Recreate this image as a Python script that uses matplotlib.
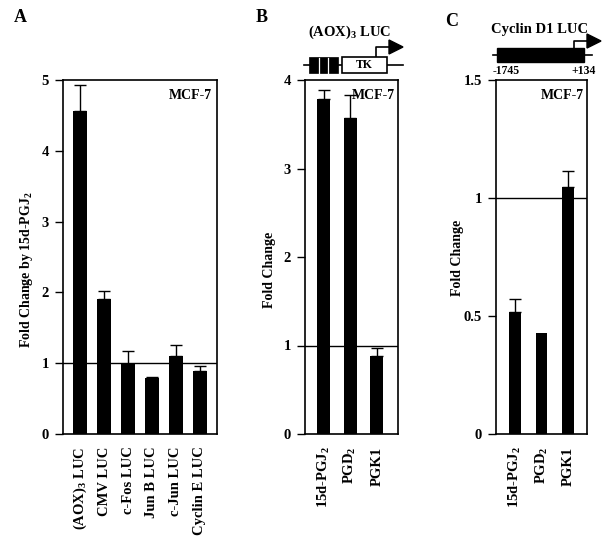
import matplotlib
matplotlib.use("Agg")
import matplotlib.pyplot as plt
from matplotlib.patches import Rectangle, Polygon

plt.rcParams['font.family'] = ['Liberation Serif', 'DejaVu Serif']
plt.rcParams['font.weight'] = 'bold'
plt.rcParams['mathtext.fontset'] = 'custom'
plt.rcParams['mathtext.rm'] = 'Liberation Serif:bold'
plt.rcParams['mathtext.bf'] = 'Liberation Serif:bold'
plt.rcParams['mathtext.it'] = 'Liberation Serif:bold'
plt.rcParams['mathtext.default'] = 'bf'

# ---- data ----
a_cats = ['(AOX)$_3$ LUC', 'CMV LUC', 'c-Fos LUC', 'Jun B LUC', 'c-Jun LUC', 'Cyclin E LUC']
a_vals = [4.56, 1.91, 0.99, 0.79, 1.10, 0.89]
a_err = [0.37, 0.11, 0.18, 0.01, 0.16, 0.07]
a_ticks = [0, 1, 2, 3, 4, 5]

b_cats = ['15d-PGJ$_2$', 'PGD$_2$', 'PGK1']
b_vals = [3.79, 3.57, 0.88]
b_err = [0.10, 0.26, 0.09]
b_ticks = [0, 1, 2, 3, 4]

c_cats = ['15d-PGJ$_2$', 'PGD$_2$', 'PGK1']
c_vals = [0.517, 0.428, 1.047]
c_err = [0.055, 0.0, 0.068]
c_ticks = [0, 0.5, 1, 1.5]
c_ticklabels = ['0', '0.5', '1', '1.5']

W, H = 609, 543
fig = plt.figure(figsize=(W / 100, H / 100), dpi=100)


def make_axes(x0, x1, y0, y1):
    return fig.add_axes([x0 / W, 1 - y1 / H, (x1 - x0) / W, (y1 - y0) / H])


def panel(ax, cats, vals, errs, ticks, ylim, xlim, width, ticklabels=None):
    x = list(range(len(cats)))
    ax.axhline(1, color='black', lw=1.0, zorder=1)
    ax.bar(x, vals, width=width, color='black', zorder=2)
    for xi, v, e in zip(x, vals, errs):
        if e > 0:
            ax.errorbar([xi], [v], yerr=[[0], [e]], fmt='none', ecolor='black',
                        elinewidth=1.0, capsize=4, capthick=1.0, zorder=3)
    ax.set_xlim(*xlim)
    ax.set_ylim(*ylim)
    ax.set_yticks(ticks)
    if ticklabels is not None:
        ax.set_yticklabels(ticklabels)
    ax.set_xticks(x)
    ax.set_xticklabels(cats, rotation=90, fontsize=10.5, fontweight='bold')
    ax.tick_params(axis='x', length=0, pad=9)
    ax.tick_params(axis='y', direction='out', length=6, width=1.0, labelsize=10.5, pad=4)
    for s in ax.spines.values():
        s.set_linewidth(1.2)
    ax.text(0.97, 0.955, 'MCF-7', transform=ax.transAxes, ha='right', va='center',
            fontsize=10, fontweight='bold')


axA = make_axes(63, 217, 80, 434)
panel(axA, a_cats, a_vals, a_err, a_ticks, (0, 5), (-0.71, 5.71), 0.58)
axB = make_axes(305, 398, 80, 434)
panel(axB, b_cats, b_vals, b_err, b_ticks, (0, 4), (-0.7, 2.8), 0.5)
axC = make_axes(496, 587, 80, 434)
panel(axC, c_cats, c_vals, c_err, c_ticks, (0, 1.5), (-0.72, 2.72), 0.45, c_ticklabels)

fig.text(27 / W, 1 - 270 / H, 'Fold Change by 15d-PGJ$_2$', rotation=90, ha='center',
         va='center', fontsize=10, fontweight='bold')
fig.text(270 / W, 1 - 270 / H, 'Fold Change', rotation=90, ha='center',
         va='center', fontsize=10, fontweight='bold')
fig.text(457 / W, 1 - 258 / H, 'Fold Change', rotation=90, ha='center',
         va='center', fontsize=10, fontweight='bold')

# panel letters
for lx, ly, s in [(20, 18, 'A'), (262, 18, 'B'), (452, 22, 'C')]:
    fig.text(lx / W, 1 - ly / H, s, ha='center', va='center', fontsize=13, fontweight='bold')

# overlay for construct diagrams
ov = fig.add_axes([0, 0, 1, 1], zorder=-1)
ov.set_xlim(0, W)
ov.set_ylim(H, 0)
ov.axis('off')

# B diagram
ov.text(350, 32, '(AOX)$_3$ LUC', ha='center', va='center', fontsize=10.5, fontweight='bold')
ov.plot([304, 403], [65, 65], color='black', lw=1.2)
ov.add_patch(Rectangle((309, 57), 29, 16, facecolor='black', edgecolor='black', lw=0.5, zorder=3))
for bx in [318.7, 328.3]:
    ov.plot([bx, bx], [57.5, 72.5], color='white', lw=0.9, zorder=4)
ov.add_patch(Rectangle((342, 57), 45, 16, facecolor='white', edgecolor='black', lw=1.2, zorder=3))
ov.text(364.5, 65.5, 'TK', ha='center', va='center', fontsize=8.5, fontweight='bold', zorder=4)
ov.plot([376, 376, 390], [57, 47, 47], color='black', lw=1.2)
ov.add_patch(Polygon([[389, 40], [389, 54], [403, 47]], closed=True, facecolor='black', edgecolor='black'))

# C diagram
ov.text(540, 30, 'Cyclin D1 LUC', ha='center', va='center', fontsize=10.5, fontweight='bold')
ov.plot([493, 592], [55, 55], color='black', lw=1.2)
ov.add_patch(Rectangle((497, 48), 87, 14, facecolor='black', edgecolor='black', zorder=3))
ov.plot([574, 574, 588], [48, 41, 41], color='black', lw=1.2)
ov.add_patch(Polygon([[587, 34], [587, 48], [601, 41]], closed=True, facecolor='black', edgecolor='black'))
ov.text(506, 71, '-1745', ha='center', va='center', fontsize=8.5, fontweight='bold')
ov.text(584, 71, '+134', ha='center', va='center', fontsize=8.5, fontweight='bold')

fig.savefig('out.png', dpi=100)
